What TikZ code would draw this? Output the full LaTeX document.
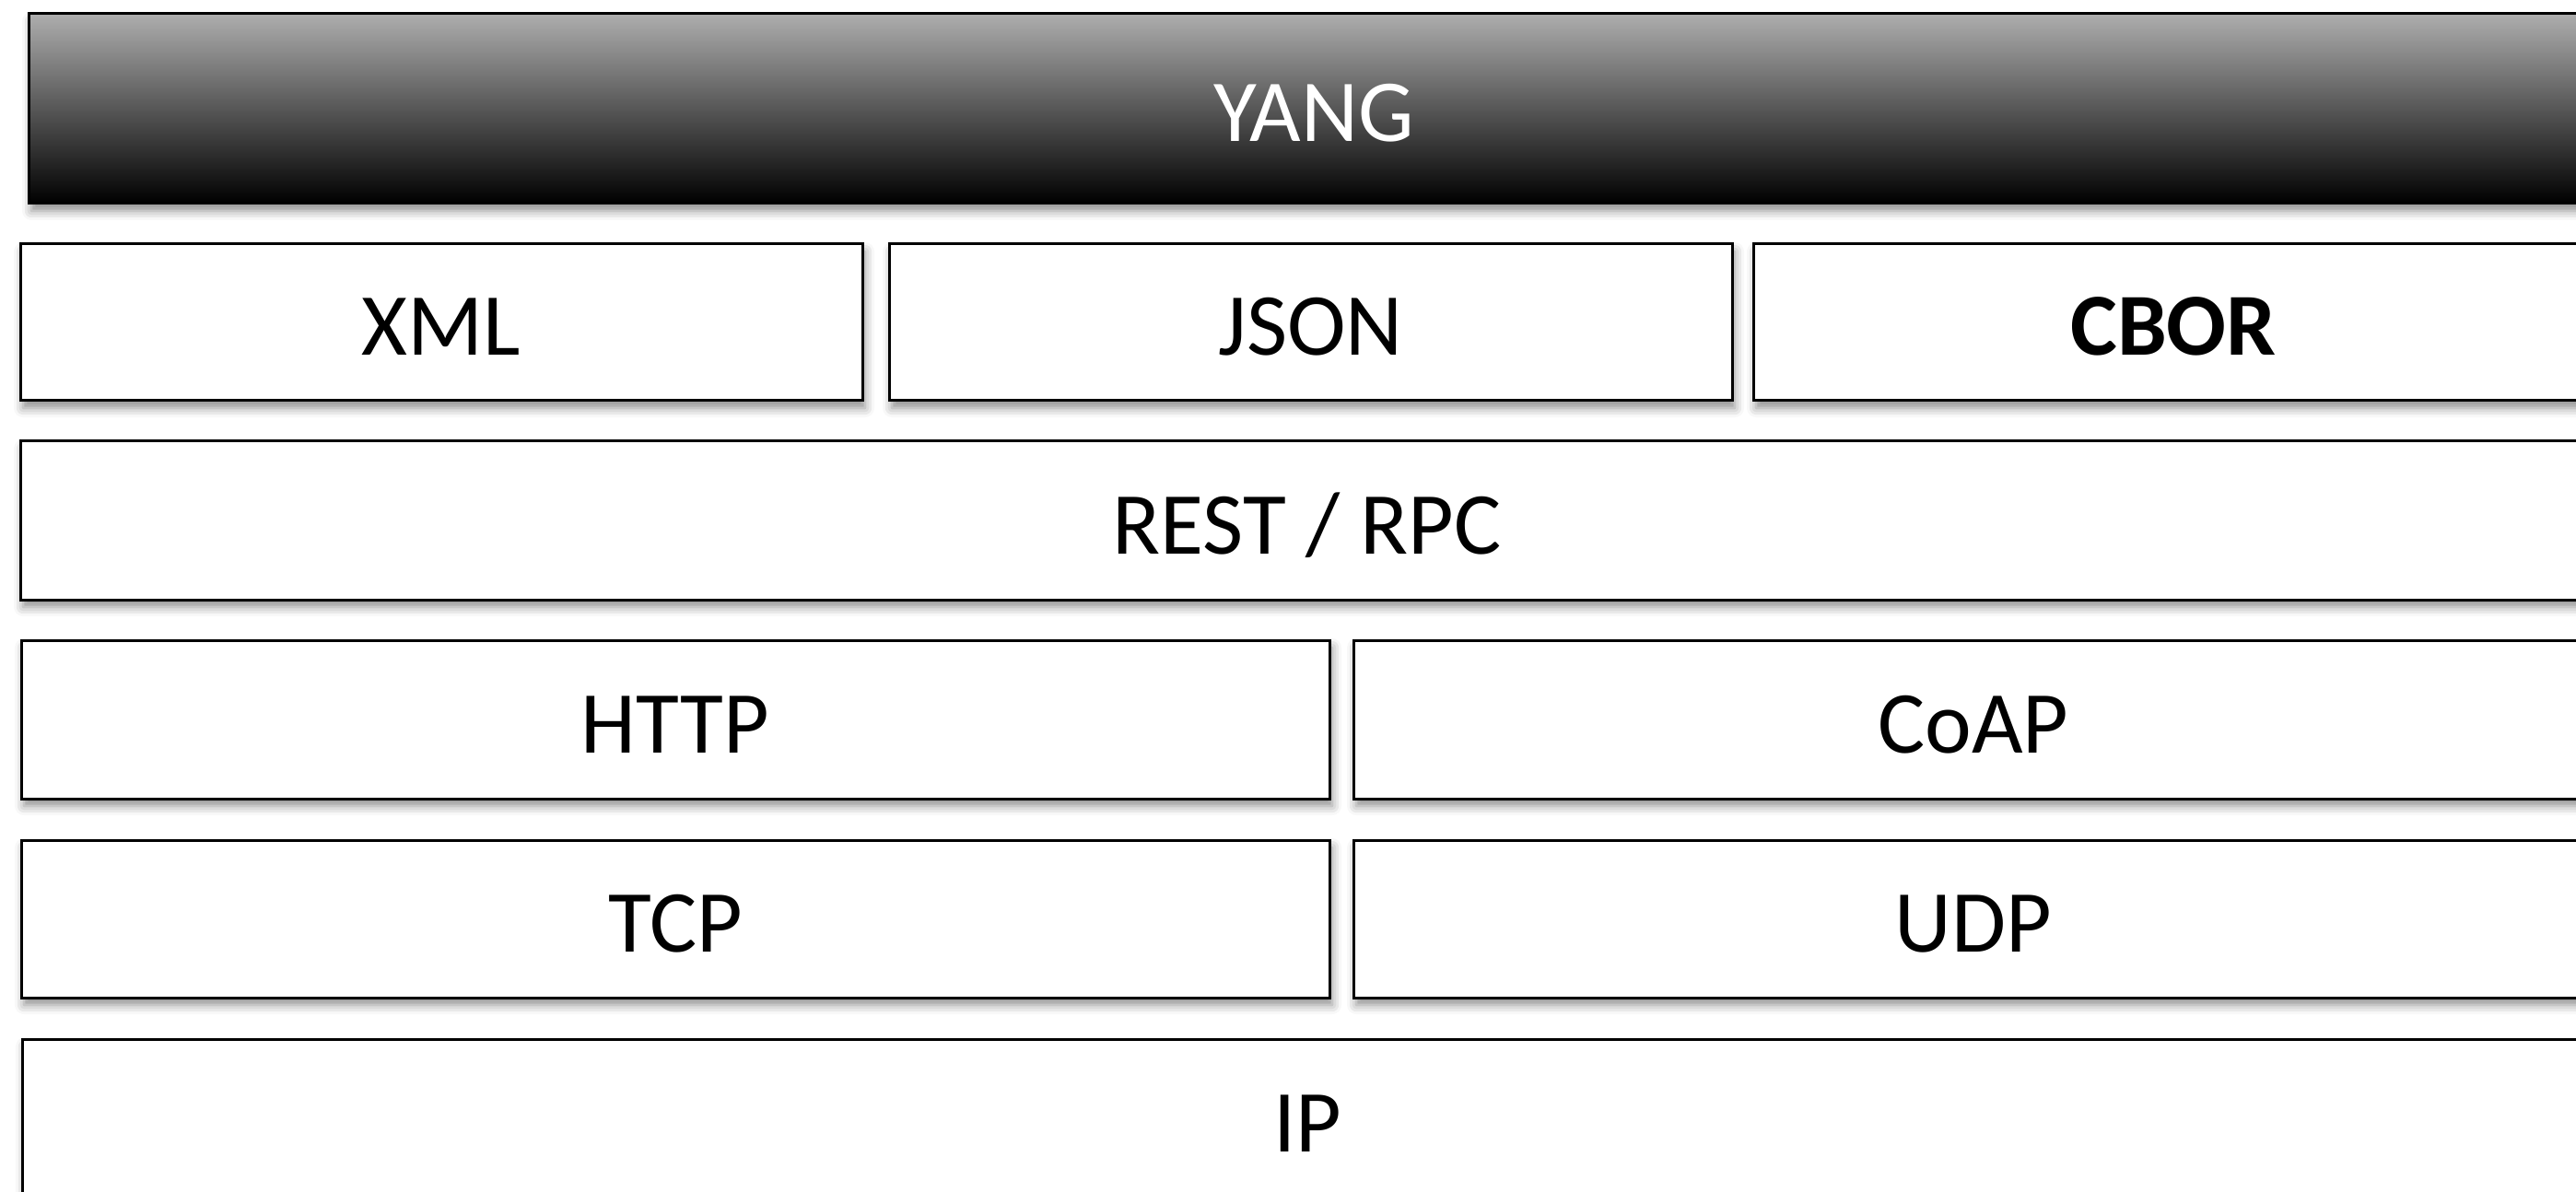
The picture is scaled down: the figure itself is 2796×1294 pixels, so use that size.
\documentclass[tikz,border=0pt]{standalone}
\usepackage{fontspec}
\setmainfont{Carlito}
\usetikzlibrary{shadows.blur}
\tikzset{
  layerbox/.style={draw=black, line width=1.5pt, fill=white, rectangle, inner sep=0pt,
    font=\fontsize{48}{58}\selectfont, text height=36pt, text depth=0pt,
    blur shadow={shadow xshift=1.5pt, shadow yshift=-4pt, shadow blur radius=5pt, shadow opacity=45}},
  topbox/.style={layerbox, top color=black!32, bottom color=black, text=white}
}
\begin{document}
\begin{tikzpicture}[x=0.5pt,y=-0.5pt]
\useasboundingbox (0,0) rectangle (2796,1294);
\begin{scope}
\clip (0,0) rectangle (2796,1294);
\node[topbox, minimum width=1395pt, minimum height=103pt] (yang) at (1426,118) {YANG};
\node[layerbox, minimum width=457pt, minimum height=85pt] (xml) at (479,350) {XML};
\node[layerbox, minimum width=457.5pt, minimum height=85pt] (json) at (1422.5,350) {JSON};
\node[layerbox, minimum width=456pt, minimum height=85pt] (cbor) at (2359,350) {\bfseries CBOR};
\node[layerbox, minimum width=1396.5pt, minimum height=86pt] (rest) at (1418.5,565) {REST / RPC};
\node[layerbox, minimum width=710pt, minimum height=86pt] (http) at (733,781) {HTTP};
\node[layerbox, minimum width=673pt, minimum height=86pt] (coap) at (2142,781) {CoAP};
\node[layerbox, minimum width=710pt, minimum height=85.5pt] (tcp) at (733,997.5) {TCP};
\node[layerbox, minimum width=673pt, minimum height=85.5pt] (udp) at (2142,997.5) {UDP};
\node[layerbox, minimum width=1395.5pt, minimum height=86pt] (ip) at (1419.5,1214) {IP};
\end{scope}
\end{tikzpicture}
\end{document}
